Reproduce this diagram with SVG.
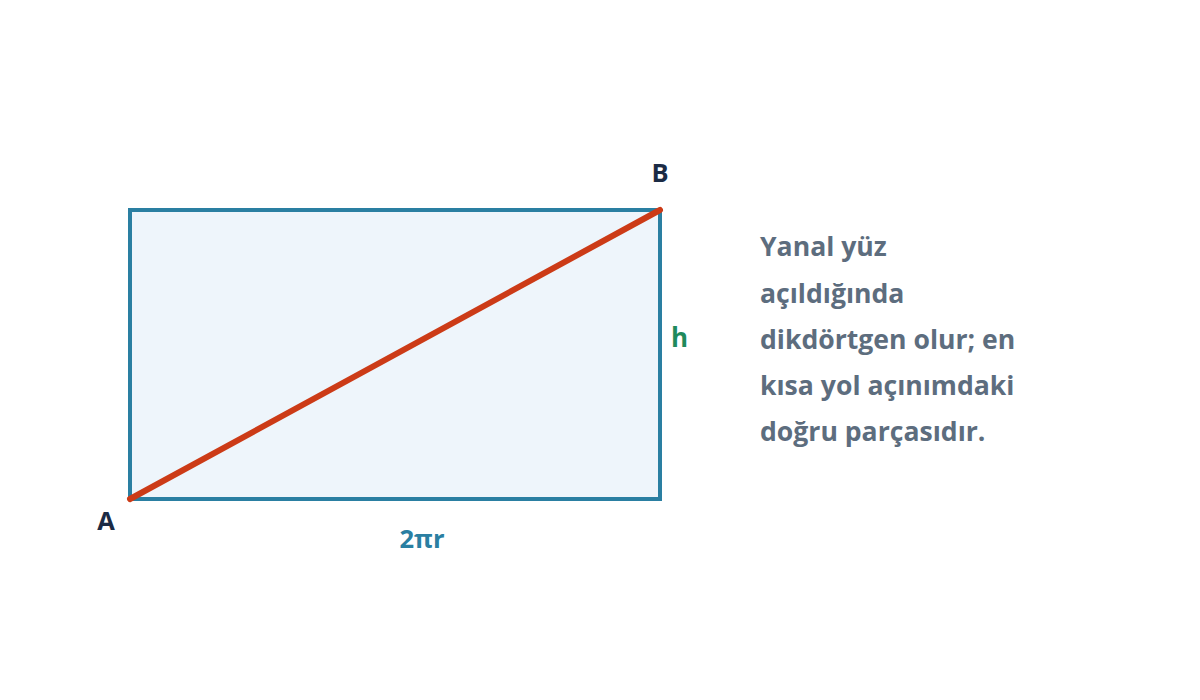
<svg xmlns="http://www.w3.org/2000/svg" width="1200" height="700" viewBox="0 0 1200 700">
<style>
.lbl{font-family:"Open Sans",Lato,"Liberation Sans",sans-serif;font-weight:bold}
.note{font-family:"Open Sans",Lato,"Liberation Sans",sans-serif;font-weight:bold;font-size:26.6px;fill:#5d6d7e}
</style>
<rect width="1200" height="700" fill="#ffffff"/>
<g id="rectangle">
<rect x="130" y="210" width="530" height="289" fill="#eef5fb" stroke="#2a7fa2" stroke-width="4"/>
</g>
<g id="connectors">
<line x1="130" y1="499" x2="660" y2="210" stroke="#cc3b17" stroke-width="6" stroke-linecap="round"/>
</g>
<g id="labels">
<text class="lbl" x="660" y="182" font-size="25.5" fill="#1b2b45" text-anchor="middle">B</text>
<text class="lbl" x="106" y="530" font-size="25.5" fill="#1b2b45" text-anchor="middle">A</text>
<text class="lbl" x="422" y="548" font-size="25.5" fill="#2a7fa2" text-anchor="middle">2πr</text>
<text class="lbl" x="671" y="347" font-size="26" fill="#1f8a5c">h</text>
</g>
<g id="note">
<text class="note" x="760" y="256">Yanal yüz</text>
<text class="note" x="760" y="303">açıldığında</text>
<text class="note" x="760" y="349">dikdörtgen olur; en</text>
<text class="note" x="760" y="395">kısa yol açınımdaki</text>
<text class="note" x="760" y="441">doğru parçasıdır.</text>
</g>
</svg>
